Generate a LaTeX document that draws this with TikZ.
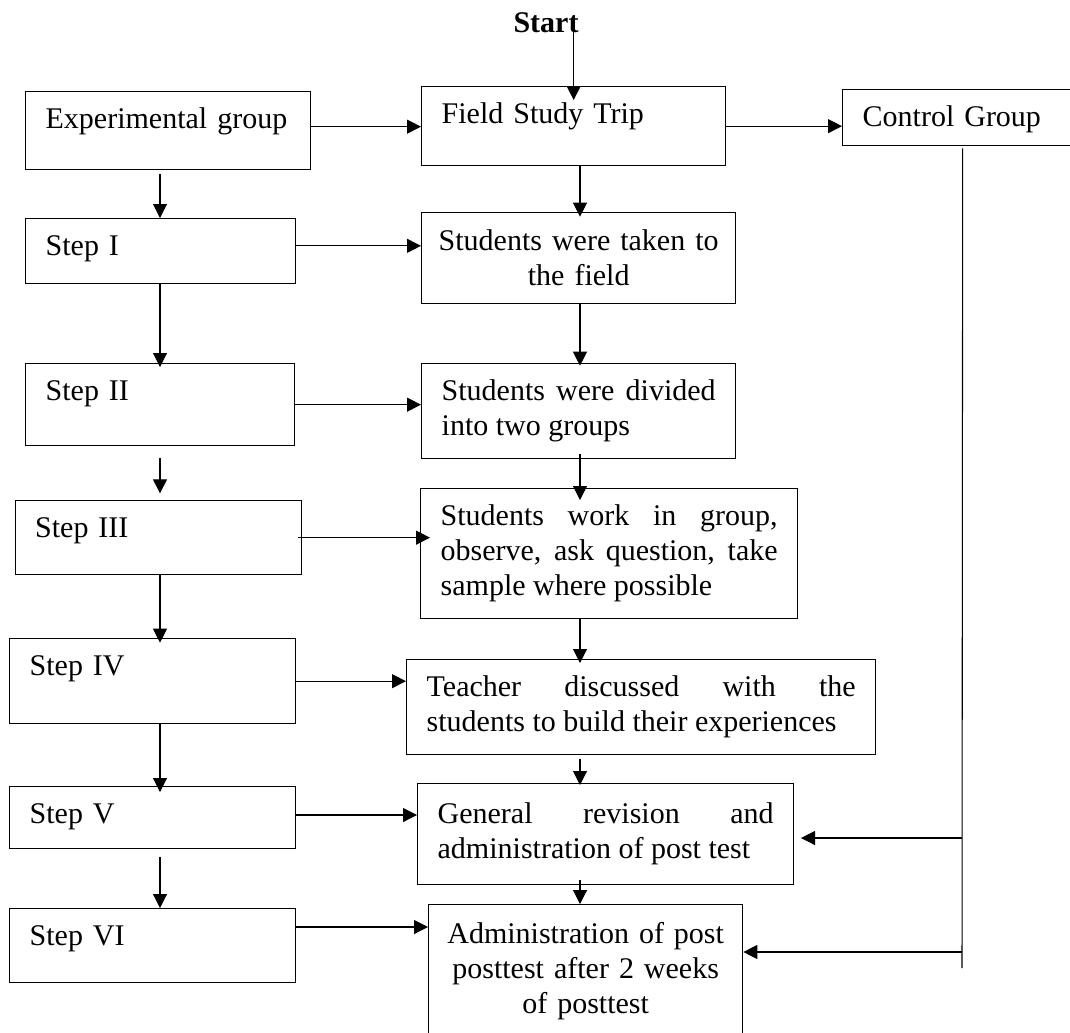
\documentclass[tikz,border=0pt]{standalone}
\usepackage{fontspec}
\setmainfont{Liberation Serif}
\usepackage{tikz}
\usetikzlibrary{arrows.meta, positioning, calc}
\newcommand{\chartfont}{\fontsize{22.5pt}{26.25pt}\selectfont}

\begin{document}
\begin{tikzpicture}[x=0.75pt, y=-0.75pt,
    every node/.style={font=\chartfont},
    topbox/.style={rectangle, draw, line width=1pt, anchor=north west, inner xsep=15pt,
                   inner ysep=0pt, text height=27.75pt, align=left},
    midbox/.style={rectangle, draw, line width=1pt, anchor=north west, inner xsep=15pt,
                   inner ysep=0pt},
    arr/.style={-{Triangle[length=10.5pt, width=10.5pt]}, line width=0.8pt}
]
\useasboundingbox (0,0) rectangle (1070,1032);

\node[font=\chartfont\bfseries] (start) at (546,22.5) {Start};

\node[topbox, text width=183.75pt, text depth=30.75pt] (exp) at (25,91) {Experimental group};
\node[topbox, text width=198pt, text depth=31.5pt] (field) at (421,86) {Field Study Trip};
\node[topbox, text width=150pt, text depth=14.25pt] (control) at (842,89) {Control Group};

\node[topbox, text width=172.5pt, text depth=21pt] (s1) at (25,218) {Step I};
\node[topbox, text width=171.75pt, text depth=33.75pt] (s2) at (25,363) {Step II};
\node[topbox, text width=184.9pt, text depth=27.75pt] (s3) at (14.5,500) {Step III};
\node[topbox, text width=184.5pt, text depth=36pt] (s4) at (9,638) {Step IV};
\node[topbox, text width=184.5pt, text depth=18.75pt] (s5) at (9,786) {Step V};
\node[topbox, text width=184.5pt, text depth=27.75pt] (s6) at (9,908) {Step VI};

\node[midbox, inner xsep=10pt, text width=215.5pt, align=center, minimum height=68.25pt] (taken) at (421,212)
    {Students were taken to\\ the field};
\node[midbox, text width=205.5pt, align=justify, minimum height=71.25pt] (divided) at (421,363)
    {Students were divided\linebreak into two groups};
\node[midbox, text width=252.75pt, align=justify, minimum height=97.5pt] (work) at (420,488)
    {Students work in group,\linebreak observe, ask question, take\linebreak sample where possible};
\node[midbox, text width=321.75pt, align=justify, minimum height=71.25pt] (teacher) at (406,659)
    {Teacher discussed with the\linebreak students to build their experiences};
\node[midbox, text width=252pt, align=justify, minimum height=75.75pt] (general) at (417,783)
    {General revision and\linebreak administration of post test};
\node[midbox, inner xsep=10pt, text width=215.5pt, align=center, minimum height=99pt] (admin) at (428,904)
    {Administration of post\\ posttest after 2 weeks\\ of posttest};

\coordinate (lane) at (160,0);
\coordinate (midlane) at (580,0);
\coordinate (ctlbot) at (962,968);
\coordinate (tapgen) at (962,838);
\coordinate (tapadm) at (962,952);

\draw[arr] (start.center -| field.north) -- ([yshift=-10.5pt]field.north);
\draw[arr] ([yshift=3pt]exp.east) -- ([yshift=3pt]exp.east -| field.west);
\draw[arr] (field.east) -- (field.east -| control.west);

\draw[arr] ([yshift=-3pt]exp.south -| lane) -- (s1.north -| lane);
\draw[arr] (s1.south -| lane) -- ([yshift=-3pt]s2.north -| lane);
\draw[arr] ([yshift=-9pt]s2.south -| lane) -- ([yshift=5pt]s3.north -| lane);
\draw[arr] (s3.south -| lane) -- ([yshift=-3.5pt]s4.north -| lane);
\draw[arr] (s4.south -| lane) -- ([yshift=-4.5pt]s5.north -| lane);
\draw[arr] ([yshift=-6pt]s5.south -| lane) -- (s6.north -| lane);

\draw[arr] (field.south -| midlane) -- ([yshift=-3.5pt]taken.north -| midlane);
\draw[arr] (taken.south -| midlane) -- ([yshift=-2pt]divided.north -| midlane);
\draw[arr] ([yshift=4pt]divided.south -| midlane) -- ([yshift=-9pt]work.north -| midlane);
\draw[arr] (work.south -| midlane) -- ([yshift=-3pt]teacher.north -| midlane);
\draw[arr] ([yshift=-3pt]teacher.south -| midlane) -- ([yshift=-1.5pt]general.north -| midlane);
\draw[arr] ([yshift=4pt]general.south -| midlane) -- (admin.north -| midlane);

\draw[arr] ([yshift=4pt]s1.east) -- ([yshift=4pt]s1.east -| taken.west);
\draw[arr] (s2.east) -- (s2.east -| divided.west);
\draw[arr] ([xshift=-3pt]s3.east) -- ([xshift=7.5pt]s3.east -| work.west);
\draw[arr] (s4.east) -- (s4.east -| teacher.west);
\draw[arr] ([yshift=2pt]s5.east) -- ([yshift=2pt]s5.east -| general.west);
\draw[arr] ([yshift=14pt]s6.east) -- ([yshift=14pt]s6.east -| admin.west);

\draw[line width=0.8pt] ([yshift=-1.5pt]control.south) -- (ctlbot);
\draw[arr] (tapgen) -- ([xshift=5pt]general.east |- tapgen);
\draw[arr] (tapadm) -- (admin.east |- tapadm);
\end{tikzpicture}
\end{document}
